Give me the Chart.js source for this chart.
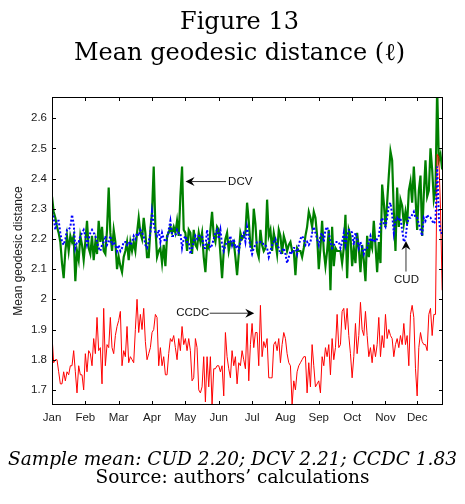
<!DOCTYPE html>
<html><head><meta charset="utf-8">
<script src="https://cdn.jsdelivr.net/npm/chart.js@4.4.1/dist/chart.umd.min.js"></script>
<style>
html,body{margin:0;padding:0;background:#fff;}
#wrap{position:relative;width:465px;height:504px;overflow:hidden;background:#fff;}
#chart{position:absolute;left:0;top:0;}
.t{position:absolute;left:0;width:465px;text-align:center;font-family:"DejaVu Serif",serif;color:#000;white-space:nowrap;z-index:2;}
</style></head><body>
<div id="wrap">
<canvas id="chart" width="465" height="504"></canvas>
<div class="t" style="left:7px;top:5.5px;font-size:24px;line-height:31px;">Figure 13<br>Mean geodesic distance (ℓ)</div>
<div class="t" style="top:449.5px;font-size:18.5px;line-height:18px;"><i>Sample mean: CUD 2.20; DCV 2.21; CCDC 1.83</i><br>Source: authors’ calculations</div>
</div>
<script>
// ---- data (daily observations, one value per trading day) ----
const months = ['Jan','Feb','Mar','Apr','May','Jun','Jul','Aug','Sep','Oct','Nov','Dec'];
const monthStart = [0,20,40,60,80,100,120,140,160,180,200,219];   // day index of first trading day of each month
const yTicks = [1.7,1.8,1.9,2.0,2.1,2.2,2.3,2.4,2.5,2.6];
const yTickLabels = ['1.7','1.8','1.9','2','2.1','2.2','2.3','2.4','2.5','2.6'];

const cud = [
2.29,2.27,2.23,2.26,2.26,2.22,2.19,2.18,2.20,2.23,2.23,2.24,2.28,2.25,2.17,2.19,2.19,2.21,2.22,2.23,
2.21,2.18,2.20,2.22,2.23,2.22,2.21,2.19,2.17,2.16,2.18,2.19,2.21,2.18,2.19,2.21,2.18,2.19,2.18,2.16,
2.18,2.16,2.17,2.19,2.19,2.18,2.19,2.18,2.19,2.21,2.20,2.22,2.21,2.23,2.22,2.21,2.18,2.17,2.19,
2.22,2.29,2.25,2.22,2.21,2.23,2.19,2.22,2.20,2.19,2.20,2.23,2.26,2.21,2.21,2.21,2.23,2.22,2.22,2.17,
2.20,2.21,2.19,2.19,2.15,2.17,2.19,2.21,2.20,2.21,2.21,2.21,2.17,2.17,2.23,2.19,2.17,2.18,2.20,2.22,
2.23,2.20,2.23,2.18,2.16,2.18,2.19,2.19,2.21,2.18,2.20,2.17,2.18,2.16,2.19,2.21,2.22,2.19,
2.24,2.21,2.17,2.15,2.17,2.18,2.19,2.19,2.19,2.19,2.18,2.18,2.17,2.14,2.16,2.18,2.19,2.20,2.18,2.17,
2.15,2.16,2.17,2.15,2.12,2.14,2.16,2.15,2.17,2.17,2.15,2.18,2.20,2.21,2.20,2.18,2.19,2.18,2.19,2.22,
2.24,2.22,2.20,2.18,2.21,2.22,2.19,2.23,2.24,2.22,2.19,2.17,2.18,2.19,2.19,2.19,2.17,2.19,2.22,
2.18,2.21,2.23,2.23,2.22,2.18,2.22,2.20,2.17,2.19,2.17,2.15,2.17,2.17,2.19,2.21,2.19,2.20,2.19,2.20,
2.21,2.25,2.27,2.25,2.24,2.27,2.31,2.32,2.28,2.22,2.26,2.27,2.26,2.27,2.23,2.19,2.20,2.25,2.27,2.27,
2.28,2.29,2.27,2.27,2.25,2.23,2.21,2.27,2.26,2.28,2.27,2.27,2.26,2.25,2.26,2.44,2.27,2.22,2.22
];

const dcv = [
2.34,2.29,2.27,2.24,2.22,2.19,2.12,2.07,2.16,2.21,2.16,2.21,2.19,2.21,2.06,2.16,2.13,2.21,2.18,2.13,
2.19,2.26,2.17,2.15,2.21,2.13,2.19,2.15,2.26,2.19,2.24,2.16,2.15,2.23,2.37,2.22,2.16,2.23,2.19,2.10,
2.14,2.11,2.09,2.14,2.16,2.19,2.13,2.19,2.16,2.19,2.16,2.22,2.27,2.22,2.20,2.27,2.22,2.14,2.14,
2.23,2.29,2.44,2.24,2.14,2.16,2.17,2.12,2.18,2.11,2.21,2.22,2.24,2.22,2.24,2.22,2.26,2.21,2.34,2.44,
2.23,2.22,2.16,2.23,2.22,2.15,2.23,2.18,2.17,2.22,2.19,2.22,2.14,2.09,2.18,2.17,2.23,2.29,2.21,2.19,
2.24,2.23,2.15,2.07,2.16,2.20,2.22,2.16,2.19,2.18,2.19,2.14,2.08,2.15,2.22,2.20,2.21,2.22,
2.32,2.26,2.18,2.17,2.30,2.25,2.16,2.14,2.23,2.18,2.16,2.17,2.33,2.21,2.23,2.16,2.22,2.19,2.15,2.23,
2.21,2.15,2.21,2.19,2.16,2.18,2.19,2.16,2.16,2.08,2.17,2.16,2.16,2.14,2.17,2.21,2.24,2.29,2.27,2.24,
2.29,2.27,2.21,2.10,2.17,2.26,2.16,2.11,2.16,2.23,2.03,2.24,2.11,2.17,2.16,2.16,2.16,2.12,2.17,
2.28,2.07,2.23,2.21,2.11,2.17,2.12,2.22,2.17,2.09,2.18,2.13,2.06,2.21,2.14,2.19,2.17,2.26,2.18,2.09,
2.19,2.12,2.38,2.32,2.24,2.32,2.41,2.49,2.46,2.29,2.16,2.37,2.24,2.33,2.31,2.25,2.29,2.25,2.36,2.39,
2.32,2.44,2.34,2.23,2.36,2.41,2.21,2.35,2.46,2.34,2.36,2.50,2.43,2.33,2.36,2.70,2.46,2.48,2.43
];

const ccdc = [
1.88,1.79,1.80,1.80,1.76,1.72,1.72,1.76,1.73,1.76,1.75,1.78,1.78,1.83,1.76,1.69,1.78,1.75,1.75,1.70,
1.82,1.76,1.83,1.82,1.78,1.87,1.82,1.94,1.83,1.84,1.72,1.97,1.78,1.85,1.84,1.94,1.84,1.82,1.88,1.91,
1.93,1.96,1.78,1.83,1.81,1.91,1.79,1.81,1.80,1.79,1.90,2.00,1.89,1.95,1.90,1.97,1.86,1.80,1.82,1.84,
1.89,1.90,1.95,1.94,1.78,1.84,1.78,1.81,1.75,1.75,1.82,1.87,1.86,1.88,1.84,1.80,1.87,1.83,1.91,1.85,
1.87,1.83,1.87,1.83,1.73,1.74,1.87,1.84,1.70,1.69,1.71,1.81,1.66,1.81,1.71,1.81,1.65,1.77,1.77,1.78,
1.78,1.76,1.78,1.68,1.89,1.81,1.77,1.74,1.83,1.78,1.81,1.72,1.79,1.78,1.83,1.80,1.77,1.92,1.73,1.85,
1.92,1.84,1.89,1.89,1.78,1.98,1.81,1.86,1.84,1.87,1.74,1.74,1.74,1.85,1.86,1.83,1.87,1.79,1.85,1.89,
1.87,1.82,1.79,1.78,1.65,1.73,1.70,1.76,1.78,1.79,1.80,1.81,1.81,1.69,1.79,1.71,1.85,1.78,1.71,1.72,
1.73,1.69,1.81,1.78,1.84,1.81,1.85,1.75,1.87,1.80,1.84,1.95,1.84,1.85,1.96,1.97,1.90,1.97,1.88,1.82,
1.74,1.81,1.92,1.82,1.88,1.99,1.90,1.88,1.96,1.88,1.81,1.84,1.79,1.85,1.81,1.85,1.94,1.81,1.88,1.84,
1.95,1.87,1.90,1.88,1.87,1.81,1.85,1.87,1.84,1.88,1.85,1.92,1.85,1.88,1.78,1.95,1.98,1.94,1.77,1.68,
1.84,1.89,1.86,1.85,1.85,1.83,1.95,1.97,1.88,1.95,1.95,2.48,2.47,2.30,2.03
];

// annotation labels (data units)
const notes = [
  {text:'DCV',  tail:[104.4,2.39],  tip:[80.1,2.39],   label:[105.6,2.39],  align:'left'},
  {text:'CCDC', tail:[94.6,1.954],  tip:[121.3,1.954], label:[94.4,1.954],  align:'right'},
  {text:'CUD',  tail:[212.3,2.092], tip:[212.3,2.193], label:[212.6,2.064], align:'center'}
];

const axisFont = {family:'"Liberation Sans", Arial, Helvetica, sans-serif', size:11.5};

function drawArrow(ctx,x1,y1,x2,y2){
  const a=Math.atan2(y2-y1,x2-x1), hl=9, hw=4.5, notch=6;
  const c=Math.cos(a), s=Math.sin(a);
  ctx.strokeStyle='#333'; ctx.lineWidth=1;
  ctx.beginPath(); ctx.moveTo(x1,y1); ctx.lineTo(x2-c*notch,y2-s*notch); ctx.stroke();
  ctx.fillStyle='#000';
  ctx.beginPath();
  ctx.moveTo(x2,y2);
  ctx.lineTo(x2-hl*c+hw*s, y2-hl*s-hw*c);
  ctx.lineTo(x2-notch*c, y2-notch*s);
  ctx.lineTo(x2-hl*c-hw*s, y2-hl*s+hw*c);
  ctx.closePath(); ctx.fill();
}

const framePlugin = {
  id:'frame',
  afterDatasetsDraw(chart){
    const {ctx, chartArea:a, scales:{x,y}} = chart;
    ctx.save();
    ctx.strokeStyle='#000'; ctx.lineWidth=1;
    const L=4;
    ctx.beginPath();
    monthStart.forEach(v=>{
      const px=Math.round(x.getPixelForValue(v))+0.5;
      ctx.moveTo(px,a.bottom); ctx.lineTo(px,a.bottom-L);
      ctx.moveTo(px,a.top); ctx.lineTo(px,a.top+L);
    });
    yTicks.forEach(v=>{
      const py=Math.round(y.getPixelForValue(v))+0.5;
      ctx.moveTo(a.left,py); ctx.lineTo(a.left+L,py);
      ctx.moveTo(a.right,py); ctx.lineTo(a.right-L,py);
    });
    ctx.stroke();
    ctx.strokeRect(Math.round(a.left)+0.5, Math.round(a.top)+0.5, Math.round(a.right-a.left)-1, Math.round(a.bottom-a.top)-1);
    // annotations
    ctx.font = axisFont.size+'px '+axisFont.family;
    ctx.textBaseline='middle';
    notes.forEach(n=>{
      drawArrow(ctx, x.getPixelForValue(n.tail[0]), y.getPixelForValue(n.tail[1]),
                     x.getPixelForValue(n.tip[0]),  y.getPixelForValue(n.tip[1]));
      ctx.fillStyle='#111'; ctx.textAlign=n.align;
      ctx.fillText(n.text, x.getPixelForValue(n.label[0]), y.getPixelForValue(n.label[1]));
    });
    ctx.restore();
  }
};

const toXY = arr => arr.map((v,i)=>({x:i,y:v}));

new Chart(document.getElementById('chart'), {
  type:'line',
  data:{datasets:[
    {label:'CUD',  data:toXY(cud),  borderColor:'#0000ff', borderWidth:2,   borderDash:[2,2], pointRadius:0, tension:0, clip:0, fill:false},
    {label:'CCDC', data:toXY(ccdc), borderColor:'#ff0000', borderWidth:1,   pointRadius:0, tension:0, clip:0, fill:false},
    {label:'DCV',  data:toXY(dcv),  borderColor:'#008000', borderWidth:2.2, pointRadius:0, tension:0, clip:0, fill:false}
  ]},
  options:{
    responsive:false, animation:false, devicePixelRatio:1,
    layout:{padding:{left:0, top:97, right:22, bottom:0}},
    plugins:{legend:{display:false}, tooltip:{enabled:false}, title:{display:false}},
    scales:{
      x:{type:'linear', min:0, max:234.5,
         grid:{display:false, drawTicks:false}, border:{display:false},
         afterBuildTicks:s=>{ s.ticks = monthStart.map(v=>({value:v})); },
         afterFit:s=>{ s.height = 99; },
         ticks:{autoSkip:false, maxRotation:0, padding:6, color:'#1a1a1a', font:axisFont,
                callback:(v,i)=>months[i]}},
      y:{type:'linear', min:1.65, max:2.67,
         grid:{display:false, drawTicks:false}, border:{display:false},
         afterBuildTicks:s=>{ s.ticks = yTicks.map(v=>({value:v})); },
         afterFit:s=>{ s.width = 52; },
         ticks:{padding:5, color:'#1a1a1a', font:axisFont, callback:(v,i)=>yTickLabels[i]},
         title:{display:true, text:'Mean geodesic distance', color:'#1a1a1a',
                font:{family:axisFont.family, size:12}, padding:{top:11, bottom:0}}}
    }
  },
  plugins:[framePlugin]
});
</script>
</body></html>
